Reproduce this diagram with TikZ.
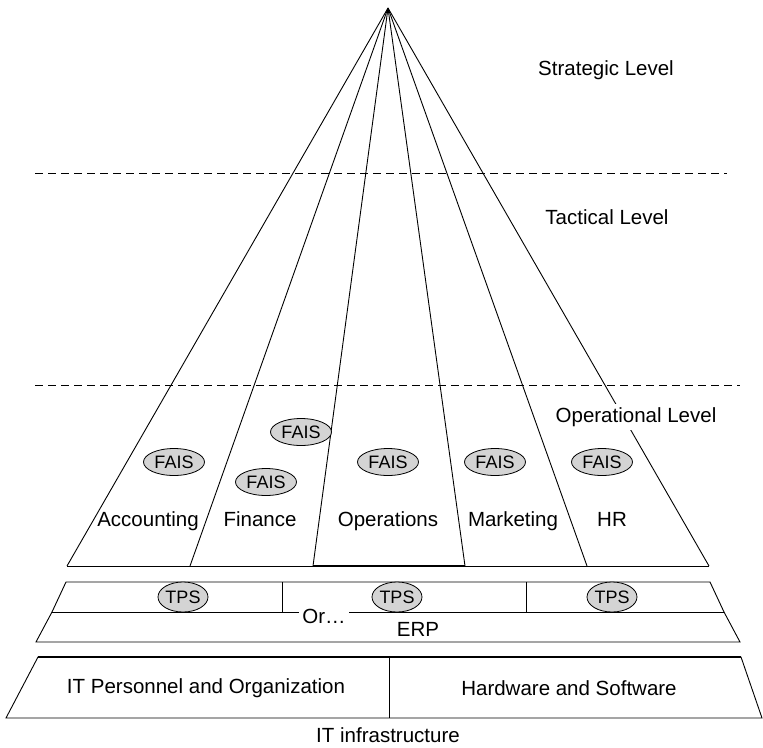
\documentclass[tikz,border=0pt]{standalone}
\usepackage{fontspec}
\setmainfont{Liberation Sans}
\usetikzlibrary{shapes.geometric}
\definecolor{faisgray}{RGB}{212,212,212}
\tikzset{
  ln/.style={line width=0.9pt, black},
  dashln/.style={line width=0.8pt, dash pattern=on 8pt off 5pt},
  lbl/.style={font=\fontsize{20.5}{24}\selectfont, inner sep=2pt},
  bublbl/.style={ellipse, draw, line width=0.8pt, fill=faisgray, inner sep=0pt,
     font=\fontsize{18}{20}\selectfont},
  fais/.style={bublbl, minimum width=61pt, minimum height=27pt},
  tps/.style={bublbl, minimum width=50pt, minimum height=30pt},
}
\begin{document}
\begin{tikzpicture}[x=1pt,y=-1pt]
\useasboundingbox (0,0) rectangle (763,747);
% apex and base points
\coordinate (apex) at (388,8);
\coordinate (b0) at (67,566);
\coordinate (b1) at (190,566);
\coordinate (b2) at (313,566);
\coordinate (b3) at (465,566);
\coordinate (b4) at (587,566);
\coordinate (b5) at (709,566);
\foreach \i in {0,...,5} {\draw[ln] (apex) -- (b\i);}
\draw[ln] (b0) -- (b5);
\draw[line width=2pt] (b2) -- (b3);
% dashed level separators
\coordinate (d1a) at (35,173); \coordinate (d1b) at (727,173);
\coordinate (d2a) at (35,385); \coordinate (d2b) at (740,385);
\draw[dashln] (d1a) -- (d1b);
\draw[dashln] (d2a) -- (d2b);
% level labels
\node[lbl] (strat) at (606,70) {Strategic Level};
\node[lbl] (tact) at (607,217) {Tactical Level};
\node[lbl, fill=white, inner sep=3pt] (oper) at (636,417) {Operational Level};
% FAIS bubbles
\node[fais] (f1) at (174,462) {FAIS};
\node[fais] (f2a) at (301,432) {FAIS};
\node[fais] (f2b) at (266,482) {FAIS};
\node[fais] (f3) at (388,462) {FAIS};
\node[fais] (f4) at (495,462) {FAIS};
\node[fais] (f5) at (602,462) {FAIS};
% department labels
\node[lbl, anchor=base] (acc) at (148,526) {Accounting};
\node[lbl, anchor=base] (fin) at (260,526) {Finance};
\node[lbl, anchor=base] (ops) at (388,526) {Operations};
\node[lbl, anchor=base] (mkt) at (513,526) {Marketing};
\node[lbl, anchor=base] (hr) at (612,526) {HR};
% TPS / ERP band
\coordinate (t1) at (66,582); \coordinate (t2) at (710,582);
\coordinate (m1) at (52,612); \coordinate (m2) at (724,612);
\coordinate (e1) at (36,642); \coordinate (e2) at (740,642);
\draw[ln] (t1) -- (t2) -- (m2) -- (e2) -- (e1) -- (m1) -- cycle;
\draw[ln] (m1) -- (m2);
\coordinate (v1a) at (282,582); \coordinate (v1b) at (282,612);
\coordinate (v2a) at (526,582); \coordinate (v2b) at (526,612);
\draw[ln] (v1a) -- (v1b);
\draw[ln] (v2a) -- (v2b);
\node[tps] (tp1) at (183,597) {TPS};
\node[tps] (tp2) at (397,597) {TPS};
\node[tps] (tp3) at (612,597) {TPS};
\node[lbl, fill=white, inner sep=3pt] (or) at (324,616) {Or…};
\node[lbl] (erp) at (418,629) {ERP};
% IT infrastructure band
\coordinate (i1) at (38,657); \coordinate (i2) at (741,657);
\coordinate (i3) at (762,718); \coordinate (i4) at (6,718);
\draw[ln] (i1) -- (i2) -- (i3) -- (i4) -- cycle;
\draw[line width=1.3pt] (i1) -- (i2);
\coordinate (iv1) at (389,657); \coordinate (iv2) at (389,718);
\draw[ln] (iv1) -- (iv2);
\node[lbl] (pers) at (206,688) {IT Personnel and Organization};
\node[lbl] (hw) at (569,688) {Hardware and Software};
\node[lbl] (infra) at (388,735) {IT infrastructure};
\end{tikzpicture}
\end{document}
